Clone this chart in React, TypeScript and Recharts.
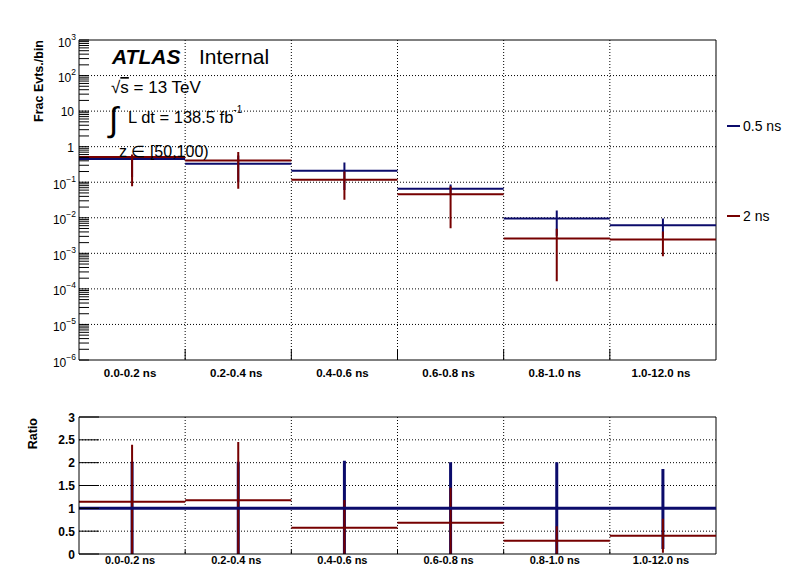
import React from "react";
import {
  ComposedChart,
  Line,
  XAxis,
  YAxis,
  CartesianGrid,
  ReferenceLine,
} from "recharts";

const FONT = "'Liberation Sans', Arial, Helvetica, sans-serif";
const BLUE = "#0b0b6b";
const RED = "#760000";

// bins
const binLabels = ["0.0-0.2 ns", "0.2-0.4 ns", "0.4-0.6 ns", "0.6-0.8 ns", "0.8-1.0 ns", "1.0-12.0 ns"];

// top panel: fraction of events per bin
const frac05 = [0.45, 0.33, 0.21, 0.066, 0.0095, 0.0062];
const frac05Lo = [0.14, 0.1, 0.06, 0.046, 0.0031, 0.0029];
const frac05Hi = [0.58, 0.56, 0.36, 0.086, 0.0159, 0.0095];
const frac2 = [0.51, 0.41, 0.118, 0.046, 0.0026, 0.00245];
const frac2Lo = [0.077, 0.065, 0.032, 0.0051, 0.000165, 0.00083];
const frac2Hi = [0.6, 0.71, 0.2, 0.077, 0.0049, 0.0041];

// bottom panel: ratio
const ratio05 = [1, 1, 1, 1, 1, 1];
const ratio05Lo = [0, 0, 0, 0, 0, 0.11];
const ratio05Hi = [2.02, 2.02, 2.04, 2.01, 2.01, 1.86];
const ratio2 = [1.145, 1.175, 0.576, 0.686, 0.29, 0.4];
const ratio2Lo = [0, 0, 0, 0, 0, 0.03];
const ratio2Hi = [2.39, 2.45, 1.18, 1.45, 0.61, 0.77];

const decades = [1e-6, 1e-5, 1e-4, 1e-3, 1e-2, 1e-1, 1, 10, 100, 1000];
const ratioTicks = [0, 0.5, 1, 1.5, 2, 2.5, 3];
const binEdges = [1, 2, 3, 4, 5];
const binCenters = binLabels.map((_, i) => i + 0.5);

const logTicks: number[] = [];
decades.forEach((d, i) => {
  logTicks.push(d);
  if (i < decades.length - 1) for (let m = 2; m <= 9; m++) logTicks.push(d * m);
});

function histSegments(vals: number[]) {
  const out: { x: number; y: number | null }[] = [];
  vals.forEach((v, i) => {
    out.push({ x: i, y: v }, { x: i + 1, y: v }, { x: i + 1, y: null });
  });
  return out;
}

function errSegments(lo: number[], hi: number[]) {
  const out: { x: number; y: number | null }[] = [];
  lo.forEach((l, i) => {
    out.push({ x: i + 0.5, y: l }, { x: i + 0.5, y: hi[i] }, { x: i + 0.5, y: null });
  });
  return out;
}

function LogTick(props: any) {
  const { x, y, payload } = props;
  const v = payload.value as number;
  const exp = Math.round(Math.log10(v));
  const major = Math.abs(v / Math.pow(10, exp) - 1) < 1e-6;
  return (
    <g>
      <line x1={x} x2={x + 10} y1={y} y2={y} stroke="#000" strokeWidth={1} />
      {major && exp === 0 && (
        <text x={74} y={y + 5} textAnchor="end" fontSize={12} fontFamily={FONT} fill="#000">1</text>
      )}
      {major && exp === 1 && (
        <text x={74} y={y + 4.5} textAnchor="end" fontSize={12} fontFamily={FONT} fill="#000">10</text>
      )}
      {major && exp !== 0 && exp !== 1 && (
        <text x={76} y={y + 6.5} textAnchor="end" fontSize={12} fontFamily={FONT} fill="#000">
          10
          <tspan dy={-7} fontSize={8.5}>{exp < 0 ? "\u2212" + Math.abs(exp) : exp}</tspan>
        </text>
      )}
    </g>
  );
}

function RatioTick(props: any) {
  const { x, y, payload } = props;
  return (
    <g>
      <line x1={x} x2={x + 20} y1={y} y2={y} stroke="#000" strokeWidth={1} />
      <text x={75} y={y + 4.5} textAnchor="end" fontSize={12} fontWeight="bold" fontFamily={FONT} fill="#000">
        {payload.value}
      </text>
    </g>
  );
}

function makeBinTick(tickLen: number, labelDy: number, fontSize: number) {
  return function BinTick(props: any) {
    const { x, y, payload } = props;
    const v = payload.value as number;
    if (Number.isInteger(v)) {
      return <line x1={x} x2={x} y1={y} y2={y - tickLen} stroke="#000" strokeWidth={1} />;
    }
    return (
      <text x={x - 2} y={y + labelDy} textAnchor="middle" fontSize={fontSize} fontWeight="bold" fontFamily={FONT} fill="#000">
        {binLabels[Math.floor(v)]}
      </text>
    );
  };
}

const TopBinTick = makeBinTick(11, 16.5, 11.5);
const BottomBinTick = makeBinTick(4, 10, 11);

const xTicks = [...binCenters, ...binEdges].sort((a, b) => a - b);

export default function App() {
  return (
    <div style={{ position: "absolute", left: 0, top: 0, width: 796, height: 572, background: "#fff", fontFamily: FONT }}>
      <div style={{ position: "absolute", left: 0, top: 0 }}>
        <ComposedChart width={796} height={380} margin={{ top: 40, right: 80, bottom: 0, left: 0 }}>
          <CartesianGrid
            stroke="#000"
            strokeDasharray="1 2"
            horizontalValues={decades.slice(1, -1)}
            verticalValues={binEdges}
          />
          <XAxis
            dataKey="x"
            type="number"
            domain={[0, 6]}
            allowDataOverflow
            ticks={xTicks}
            interval={0}
            height={20}
            tickSize={0}
            tickMargin={0}
            tickLine={false}
            tick={<TopBinTick />}
            axisLine={{ stroke: "#000" }}
          />
          <YAxis
            type="number"
            scale="log"
            domain={[1e-6, 1e3]}
            allowDataOverflow
            ticks={logTicks}
            interval={0}
            width={79}
            tickSize={0}
            tickMargin={0}
            tickLine={false}
            tick={<LogTick />}
            axisLine={{ stroke: "#000" }}
          />
          <ReferenceLine y={1000} stroke="#000" strokeWidth={1} />
          <ReferenceLine x={6} stroke="#000" strokeWidth={1} />
          <Line data={histSegments(frac05)} dataKey="y" name="0.5 ns" stroke={BLUE} strokeWidth={2} dot={false} activeDot={false} isAnimationActive={false} />
          <Line data={errSegments(frac05Lo, frac05Hi)} dataKey="y" stroke={BLUE} strokeWidth={2} dot={false} activeDot={false} isAnimationActive={false} legendType="none" />
          <Line data={histSegments(frac2)} dataKey="y" name="2 ns" stroke={RED} strokeWidth={2} dot={false} activeDot={false} isAnimationActive={false} />
          <Line data={errSegments(frac2Lo, frac2Hi)} dataKey="y" stroke={RED} strokeWidth={2} dot={false} activeDot={false} isAnimationActive={false} legendType="none" />
        </ComposedChart>
      </div>
      <div style={{ position: "absolute", left: 0, top: 380 }}>
        <ComposedChart width={796} height={192} margin={{ top: 37, right: 80, bottom: 0, left: 0 }}>
          <CartesianGrid
            stroke="#000"
            strokeDasharray="1 2"
            horizontalValues={ratioTicks.slice(1, -1)}
            verticalValues={binEdges}
          />
          <XAxis
            dataKey="x"
            type="number"
            domain={[0, 6]}
            allowDataOverflow
            ticks={xTicks}
            interval={0}
            height={18}
            tickSize={0}
            tickMargin={0}
            tickLine={false}
            tick={<BottomBinTick />}
            axisLine={{ stroke: "#000" }}
          />
          <YAxis
            type="number"
            domain={[0, 3]}
            allowDataOverflow
            ticks={ratioTicks}
            interval={0}
            width={79}
            tickSize={0}
            tickMargin={0}
            tickLine={false}
            tick={<RatioTick />}
            axisLine={{ stroke: "#000" }}
          />
          <ReferenceLine y={3} stroke="#000" strokeWidth={1} />
          <ReferenceLine x={6} stroke="#000" strokeWidth={1} />
          <Line data={errSegments(ratio05Lo, ratio05Hi)} dataKey="y" stroke={BLUE} strokeWidth={3} dot={false} activeDot={false} isAnimationActive={false} />
          <Line data={errSegments(ratio2Lo, ratio2Hi)} dataKey="y" stroke={RED} strokeWidth={2} dot={false} activeDot={false} isAnimationActive={false} />
          <Line data={histSegments(ratio2)} dataKey="y" stroke={RED} strokeWidth={2} dot={false} activeDot={false} isAnimationActive={false} />
          <Line data={histSegments(ratio05)} dataKey="y" stroke={BLUE} strokeWidth={3} dot={false} activeDot={false} isAnimationActive={false} />
        </ComposedChart>
      </div>
      <svg width={796} height={572} style={{ position: "absolute", left: 0, top: 0, pointerEvents: "none" }} fontFamily={FONT}>
        <text x={43} y={40} transform="rotate(-90 43 40)" textAnchor="end" fontSize={12.5} fontWeight="bold">Frac Evts./bin</text>
        <text x={37} y={418} transform="rotate(-90 37 418)" textAnchor="end" fontSize={12.5} fontWeight="bold">Ratio</text>
        <text x={112} y={64} fontSize={21} fontWeight="bold" fontStyle="italic">ATLAS</text>
        <text x={199} y={64} fontSize={21}>Internal</text>
        <text x={111} y={93} fontSize={17}>
          {"\u221A"}
          <tspan style={{ textDecoration: "overline" }}>s</tspan>
          {" = 13 TeV"}
        </text>
        <text x={109} y={131} fontSize={34}>{"\u222B"}</text>
        <text x={128} y={123} fontSize={16.5}>
          L dt = 138.5 fb
          <tspan dy={-10} fontSize={10}>-1</tspan>
        </text>
        <text x={119} y={156.5} fontSize={16}>z {"\u2208"} [50,100)</text>
        <line x1={727} x2={740} y1={126} y2={126} stroke={BLUE} strokeWidth={2} />
        <text x={743} y={131} fontSize={14}>0.5 ns</text>
        <line x1={727} x2={740} y1={216} y2={216} stroke={RED} strokeWidth={2} />
        <text x={743} y={221} fontSize={14}>2 ns</text>
      </svg>
    </div>
  );
}
